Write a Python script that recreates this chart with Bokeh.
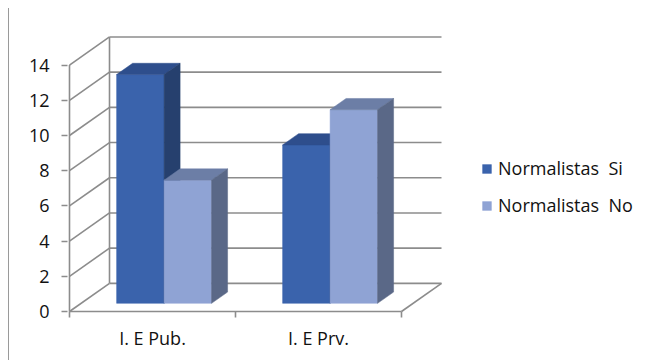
from bokeh.plotting import figure
from bokeh.models import (ColumnDataSource, FixedTicker, Legend, LegendItem,
                          Range1d)
from bokeh.embed import file_html
from bokeh.resources import INLINE

# ---- data -------------------------------------------------------------
categories = ["I. E Pub.", "I. E Prv."]
series_names = ["Normalistas  Si", "Normalistas  No"]
si_values = [13, 9]
no_values = [7, 11]
y_ticks = [0, 2, 4, 6, 8, 10, 12, 14]

# ---- styling ----------------------------------------------------------
# (front, top, side) shades for each series
SI_COLORS = ("#3A63AC", "#2E4E8C", "#26406E")
NO_COLORS = ("#8FA3D4", "#6C7EA6", "#5A6887")
GRID = "#8C8C8C"
FONT = "Open Sans"
FONT_SIZE = "18px"
TEXT_COLOR = "#111111"

# oblique 3-D projection: one unit of depth moves DX along x, DY along y
DX = 0.241
DY = 1.6
D0, D1 = 0.29, 0.69       # depth span occupied by the bars
BAR_W = 0.286             # bar width in category units
Y_TOP = max(y_ticks)

# pixel scale of the frame
PX_X = 166.0              # pixels per category
PX_Y = 17.6               # pixels per value unit
FRAME_W, FRAME_H = 574, 285
LEFT_PAD_PX, BOTTOM_PAD_PX = 2, 7
TOP_BORDER = 25

x0 = -LEFT_PAD_PX / PX_X
y0 = -BOTTOM_PAD_PX / PX_Y

p = figure(width=642, height=352, margin=(8, 0, 0, 8),
           x_range=Range1d(x0, x0 + FRAME_W / PX_X),
           y_range=Range1d(y0, y0 + FRAME_H / PX_Y),
           min_border_left=58, min_border_right=10,
           min_border_top=TOP_BORDER,
           min_border_bottom=352 - TOP_BORDER - FRAME_H,
           output_backend="svg", toolbar_location=None,
           background_fill_color="white", border_fill_color="white")
p.outline_line_color = None
p.xgrid.visible = False
p.ygrid.visible = False
p.styles = {"border-left": "1px solid #9a9a9a"}


def proj(x, v, d):
    return x + d * DX, v + d * DY


# ---- walls & floor ----------------------------------------------------
n_cat = len(categories)
back_x0, back_y0, back_x1, back_y1 = [], [], [], []
wall_xs, wall_ys = [], []
for v in y_ticks:
    bx0, by0 = proj(0, v, 1)
    bx1, by1 = proj(n_cat, v, 1)
    back_x0.append(bx0); back_y0.append(by0)
    back_x1.append(bx1); back_y1.append(by1)
    fx, fy = proj(0, v, 0)
    wall_xs.append([fx, bx0]); wall_ys.append([fy, by0])

p.segment(back_x0, back_y0, back_x1, back_y1, line_color=GRID, line_width=1.6)
p.multi_line(wall_xs, wall_ys, line_color=GRID, line_width=1.6)

# vertical edges of the side wall
bx, by = proj(0, 0, 1)
_, by_top = proj(0, Y_TOP, 1)
p.segment([0, bx], [0, by], [0, bx], [Y_TOP, by_top],
          line_color=GRID, line_width=1.6)

# floor: front edge and right edge
rx, ry = proj(n_cat, 0, 1)
p.segment([0, n_cat], [0, 0], [n_cat, rx], [0, ry],
          line_color=GRID, line_width=1.6)

# category tick marks below the floor
cat_edges = list(range(n_cat + 1))
p.segment(cat_edges, [0] * len(cat_edges), cat_edges,
          [-6 / PX_Y] * len(cat_edges), line_color=GRID, line_width=1.6)

# ---- bars -------------------------------------------------------------
legend_renderers = []
for s, (values, colors) in enumerate([(si_values, SI_COLORS),
                                      (no_values, NO_COLORS)]):
    front = dict(left=[], right=[], bottom=[], top=[])
    top_xs, top_ys, side_xs, side_ys = [], [], [], []
    for i, v in enumerate(values):
        xl = i + 0.5 - BAR_W + s * BAR_W
        xr = xl + BAR_W
        fl, fb = proj(xl, 0, D0)
        fr, ft = proj(xr, v, D0)
        front["left"].append(fl); front["right"].append(fr)
        front["bottom"].append(fb); front["top"].append(ft)
        pts = [proj(xl, v, D0), proj(xr, v, D0), proj(xr, v, D1), proj(xl, v, D1)]
        top_xs.append([q[0] for q in pts]); top_ys.append([q[1] for q in pts])
        pts = [proj(xr, 0, D0), proj(xr, v, D0), proj(xr, v, D1), proj(xr, 0, D1)]
        side_xs.append([q[0] for q in pts]); side_ys.append([q[1] for q in pts])
    r = p.quad(source=ColumnDataSource(front), left="left", right="right",
               bottom="bottom", top="top", fill_color=colors[0],
               line_color=colors[0], line_width=0.5)
    p.patches(top_xs, top_ys, fill_color=colors[1], line_color=colors[1],
              line_width=0.5)
    p.patches(side_xs, side_ys, fill_color=colors[2], line_color=colors[2],
              line_width=0.5)
    legend_renderers.append(r)

# ---- axes -------------------------------------------------------------
ya = p.yaxis[0]
ya.ticker = FixedTicker(ticks=y_ticks)
ya.axis_line_color = None
ya.major_tick_in = 0
ya.major_tick_out = 6
ya.major_tick_line_color = GRID
ya.major_tick_line_width = 1.6
ya.minor_tick_line_color = None
ya.major_label_standoff = 12
ya.major_label_text_font = FONT
ya.major_label_text_font_size = FONT_SIZE
ya.major_label_text_color = TEXT_COLOR

xa = p.xaxis[0]
cat_centers = [i + 0.5 for i in range(n_cat)]
xa.ticker = FixedTicker(ticks=cat_centers)
xa.major_label_overrides = {c: name for c, name in zip(cat_centers, categories)}
xa.axis_line_color = None
xa.major_tick_line_color = None
xa.minor_tick_line_color = None
xa.major_label_standoff = 1
xa.major_label_text_font = FONT
xa.major_label_text_font_size = FONT_SIZE
xa.major_label_text_color = TEXT_COLOR

# ---- legend -----------------------------------------------------------
legend = Legend(items=[LegendItem(label=n, renderers=[r])
                       for n, r in zip(series_names, legend_renderers)],
                location=(414, 101), orientation="vertical",
                glyph_width=11, glyph_height=11, label_height=24,
                spacing=13, padding=0, margin=0, label_standoff=6,
                label_text_font=FONT, label_text_font_size=FONT_SIZE,
                label_text_color=TEXT_COLOR,
                border_line_color=None, background_fill_alpha=0)
p.add_layout(legend)

open("out.html", "w").write(file_html(p, INLINE))
